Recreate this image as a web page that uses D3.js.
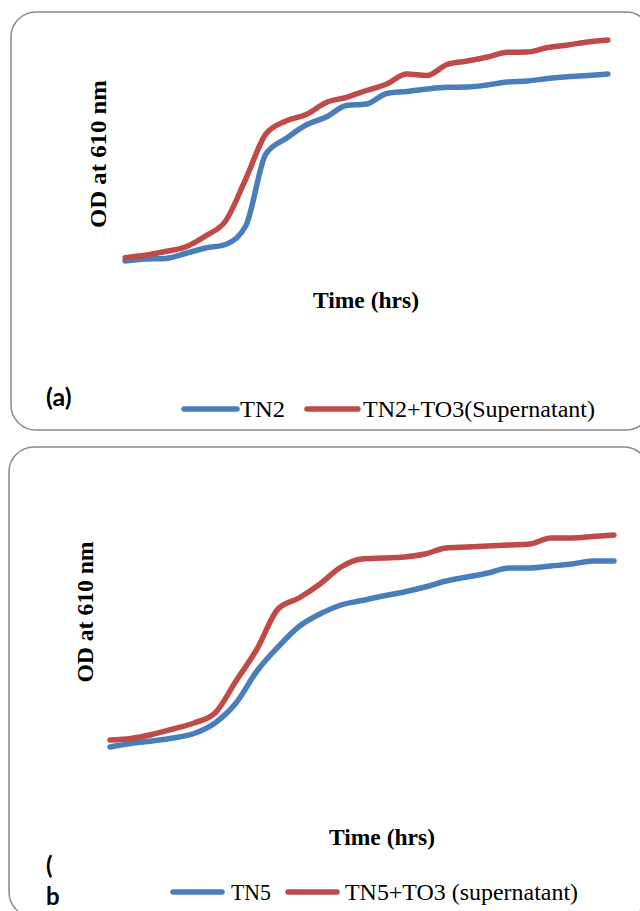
<!DOCTYPE html>
<html>
<head>
<meta charset="utf-8">
<script src="https://cdn.jsdelivr.net/npm/d3@7"></script>
<style>
body { margin: 0; background: #fff; }
svg { display: block; }
</style>
</head>
<body>
<svg id="fig" width="640" height="911"></svg>
<script>
// data (OD at 610 nm, arbitrary units)
var hours = [0,1,2,3,4,5,6,7,8,9,10,11,12,13,14,15,16,17,18,19,20,21,22,23,24];

var tn2 = [0.19,0.21,0.215,0.265,0.32,0.355,0.54,1.26,1.415,1.55,1.63,1.745,1.76,1.865,1.885,1.91,1.927,1.93,1.95,1.98,1.99,2.015,2.033,2.045,2.06];
var tn2To3 = [0.223,0.247,0.285,0.33,0.44,0.59,1.01,1.46,1.59,1.655,1.775,1.827,1.895,1.96,2.06,2.045,2.155,2.19,2.23,2.277,2.28,2.325,2.35,2.38,2.40];

var tn5 = [0.23,0.265,0.29,0.32,0.365,0.47,0.67,0.99,1.23,1.435,1.56,1.65,1.695,1.74,1.78,1.83,1.89,1.93,1.97,2.02,2.02,2.04,2.06,2.09,2.09];
var tn5To3 = [0.30,0.315,0.355,0.41,0.47,0.57,0.89,1.21,1.61,1.72,1.86,2.03,2.11,2.12,2.13,2.16,2.22,2.23,2.24,2.25,2.26,2.32,2.32,2.335,2.35];

var legendA = ["TN2", "TN2+TO3(Supernatant)"];
var legendB = ["TN5", "TN5+TO3 (supernatant)"];

var blue = "#4a7ebb";
var red = "#be4b48";

var svg = d3.select("#fig");

// one panel: border, two lines, labels, legend
function drawPanel(p) {
	var g = svg.append("g");

	g.append("rect")
		.attr("x", p.box[0])
		.attr("y", p.box[1])
		.attr("width", p.box[2])
		.attr("height", p.box[3])
		.attr("rx", 25)
		.attr("fill", "#fff")
		.attr("stroke", "#8a8a8a")
		.attr("stroke-width", 1.5);

	var x = d3.scaleLinear().domain([0, 24]).range(p.xr);
	var y = d3.scaleLinear().domain([0, 2.5]).range(p.yr);

	var line = d3.line()
		.x(function(d, i) { return x(hours[i]); })
		.y(function(d) { return y(d); })
		.curve(d3.curveMonotoneX);

	[p.s1, p.s2].forEach(function(s, k) {
		g.append("path")
			.datum(s)
			.attr("d", line)
			.attr("fill", "none")
			.attr("stroke", k == 0 ? blue : red)
			.attr("stroke-width", 5.5)
			.attr("stroke-linecap", "round")
			.attr("stroke-linejoin", "round");
	});

	// y label
	g.append("text")
		.attr("transform", "translate(" + p.ylab[0] + "," + p.ylab[1] + ") rotate(-90)")
		.attr("text-anchor", "middle")
		.attr("font-family", "Liberation Serif")
		.attr("font-weight", "bold")
		.attr("font-size", 24)
		.attr("textLength", p.ylab[2])
		.attr("lengthAdjust", "spacingAndGlyphs")
		.text("OD at 610 nm");

	// x label
	g.append("text")
		.attr("x", p.xlab[0])
		.attr("y", p.xlab[1])
		.attr("font-family", "Liberation Serif")
		.attr("font-weight", "bold")
		.attr("font-size", 24)
		.attr("textLength", 106)
		.attr("lengthAdjust", "spacingAndGlyphs")
		.text("Time (hrs)");

	// panel tag
	p.tag.forEach(function(t) {
		g.append("text")
			.attr("x", t[1])
			.attr("y", t[2])
			.attr("font-family", "Lato")
			.attr("font-weight", "bold")
			.attr("font-size", t[3])
			.text(t[0]);
	});

	// legend
	p.leg.forEach(function(l, k) {
		g.append("line")
			.attr("x1", l[0])
			.attr("x2", l[1])
			.attr("y1", p.legY - 8)
			.attr("y2", p.legY - 8)
			.attr("stroke", k == 0 ? blue : red)
			.attr("stroke-width", 5.5)
			.attr("stroke-linecap", "round");
		g.append("text")
			.attr("x", l[2])
			.attr("y", p.legY)
			.attr("font-family", "Liberation Serif")
			.attr("font-size", 24)
			.attr("textLength", l[3])
			.attr("lengthAdjust", "spacingAndGlyphs")
			.text(p.names[k]);
	});
}

drawPanel({
	box: [11, 12, 640, 418],
	xr: [125, 608],
	yr: [280, 30],
	s1: tn2,
	s2: tn2To3,
	ylab: [106, 154, 148],
	xlab: [313, 308],
	tag: [["(a)", 46, 406, 25]],
	legY: 417,
	leg: [[184, 237, 240, 45], [307, 358, 363, 232]],
	names: legendA
});

drawPanel({
	box: [9, 447, 640, 470],
	xr: [110, 614],
	yr: [770, 520],
	s1: tn5,
	s2: tn5To3,
	ylab: [93, 612, 141],
	xlab: [329, 845],
	tag: [["(", 46, 874, 24], ["b", 46, 905, 24]],
	legY: 900,
	leg: [[173, 222, 231, 40], [288, 337, 345, 233]],
	names: legendB
});
</script>
</body>
</html>
